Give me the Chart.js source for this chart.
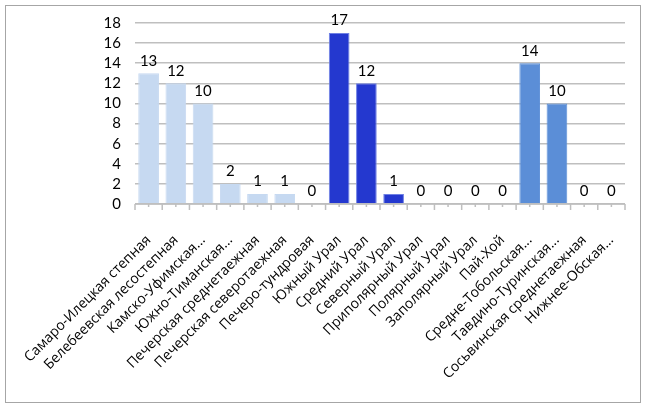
<!DOCTYPE html>
<html>
<head>
<meta charset="utf-8">
<script src="https://cdn.jsdelivr.net/npm/chart.js@4.4.0/dist/chart.umd.min.js"></script>
<style>
body { margin: 0; background: #fff; }
#wrap { position: relative; width: 647px; height: 409px; }
#frame { position: absolute; left: 5px; top: 5px; width: 634px; height: 396px; border: 1px solid #a6a6a6; }
canvas { position: absolute; left: 0; top: 0; }
</style>
</head>
<body>
<div id="wrap">
	<div id="frame"></div>
	<canvas id="mycanvas" width="647" height="409"></canvas>
</div>
<script>
// regions and number of records per region
var regions = [
	"Самаро-Илецкая степная",
	"Белебеевская лесостепная",
	"Камско-Уфимская...",
	"Южно-Тиманская...",
	"Печерская среднетаежная",
	"Печерская северотаежная",
	"Печеро-тундровая",
	"Южный Урал",
	"Средний Урал",
	"Северный Урал",
	"Приполярный Урал",
	"Полярный Урал",
	"Заполярный Урал",
	"Пай-Хой",
	"Средне-Тобольская...",
	"Тавдино-Туринская...",
	"Сосьвинская среднетаежная",
	"Нижнее-Обская..."
];
var counts = [13, 12, 10, 2, 1, 1, 0, 17, 12, 1, 0, 0, 0, 0, 14, 10, 0, 0];
// which colour group each bar belongs to (0 plain, 1 Urals, 2 West Siberia)
var groups = [0, 0, 0, 0, 0, 0, 0, 1, 1, 1, 1, 1, 1, 1, 2, 2, 2, 2];
var yMax = 18;
var yStep = 2;

var fillColors = ['#c6d9f1', '#2438cf', '#5b8ed7'];
var edgeColors = ['#c6d9f1', '#6f80e4', '#5b8ed7'];

var barFill = [];
var barEdge = [];
for (var i in groups) {
	barFill.push(fillColors[groups[i]]);
	barEdge.push(edgeColors[groups[i]]);
}

// small tick marks under the category axis
var tickMarks = {
	id: 'tickMarks',
	afterDatasetsDraw: function(chart) {
		var x = chart.scales.x;
		var y = chart.scales.y;
		var ctx = chart.ctx;
		var base = y.getPixelForValue(0);
		var half = (x.getPixelForValue(1) - x.getPixelForValue(0)) / 2;
		ctx.save();
		ctx.strokeStyle = '#bfbfbf';
		ctx.lineWidth = 1.5;
		ctx.beginPath();
		ctx.moveTo(chart.chartArea.left, base);
		ctx.lineTo(chart.chartArea.right, base);
		for (var i = 0; i < regions.length; i++) {
			var c = x.getPixelForValue(i);
			ctx.moveTo(c - half, base);
			ctx.lineTo(c - half, base + 6);
			ctx.moveTo(c, base);
			ctx.lineTo(c, base + 3);
		}
		ctx.moveTo(chart.chartArea.right, base);
		ctx.lineTo(chart.chartArea.right, base + 6);
		ctx.stroke();
		ctx.restore();
	}
};

// value labels above bars
var valueLabels = {
	id: 'valueLabels',
	afterDatasetsDraw: function(chart) {
		var ctx = chart.ctx;
		var meta = chart.getDatasetMeta(0);
		ctx.save();
		ctx.font = '15px Lato, "Open Sans", sans-serif';
		ctx.fillStyle = '#000';
		ctx.textAlign = 'center';
		ctx.textBaseline = 'bottom';
		meta.data.forEach(function(bar, i) {
			ctx.fillText(String(counts[i]), bar.x, bar.y - 5);
		});
		ctx.restore();
	}
};

var ctx = document.getElementById('mycanvas');

var barGraph = new Chart(ctx, {
	type: 'bar',
	data: {
		labels: regions,
		datasets: [{
			data: counts,
			backgroundColor: barFill,
			borderColor: barEdge,
			borderWidth: 1,
			categoryPercentage: 1,
			barPercentage: 0.76
		}]
	},
	options: {
		responsive: false,
		animation: false,
		devicePixelRatio: 1,
		layout: { padding: { top: 23, right: 22, left: 0, bottom: 0 } },
		plugins: {
			legend: { display: false },
			tooltip: { enabled: false }
		},
		scales: {
			x: {
				grid: { display: false },
				border: { display: false },
				ticks: {
					autoSkip: false,
					maxRotation: 45,
					minRotation: 45,
					padding: 20,
					color: '#000',
					font: { family: '"Open Sans", sans-serif', size: 14 }
				},
				afterFit: function(scale) { scale.height = 205; }
			},
			y: {
				min: 0,
				max: yMax,
				grid: { color: '#bfbfbf', lineWidth: 1.5, drawTicks: false },
				border: { display: false },
				ticks: {
					stepSize: yStep,
					autoSkip: false,
					padding: 14,
					color: '#000',
					font: { family: 'Lato, "Open Sans", sans-serif', size: 15 }
				},
				afterFit: function(scale) { scale.width = 135; }
			}
		}
	},
	plugins: [tickMarks, valueLabels]
});
</script>
</body>
</html>
